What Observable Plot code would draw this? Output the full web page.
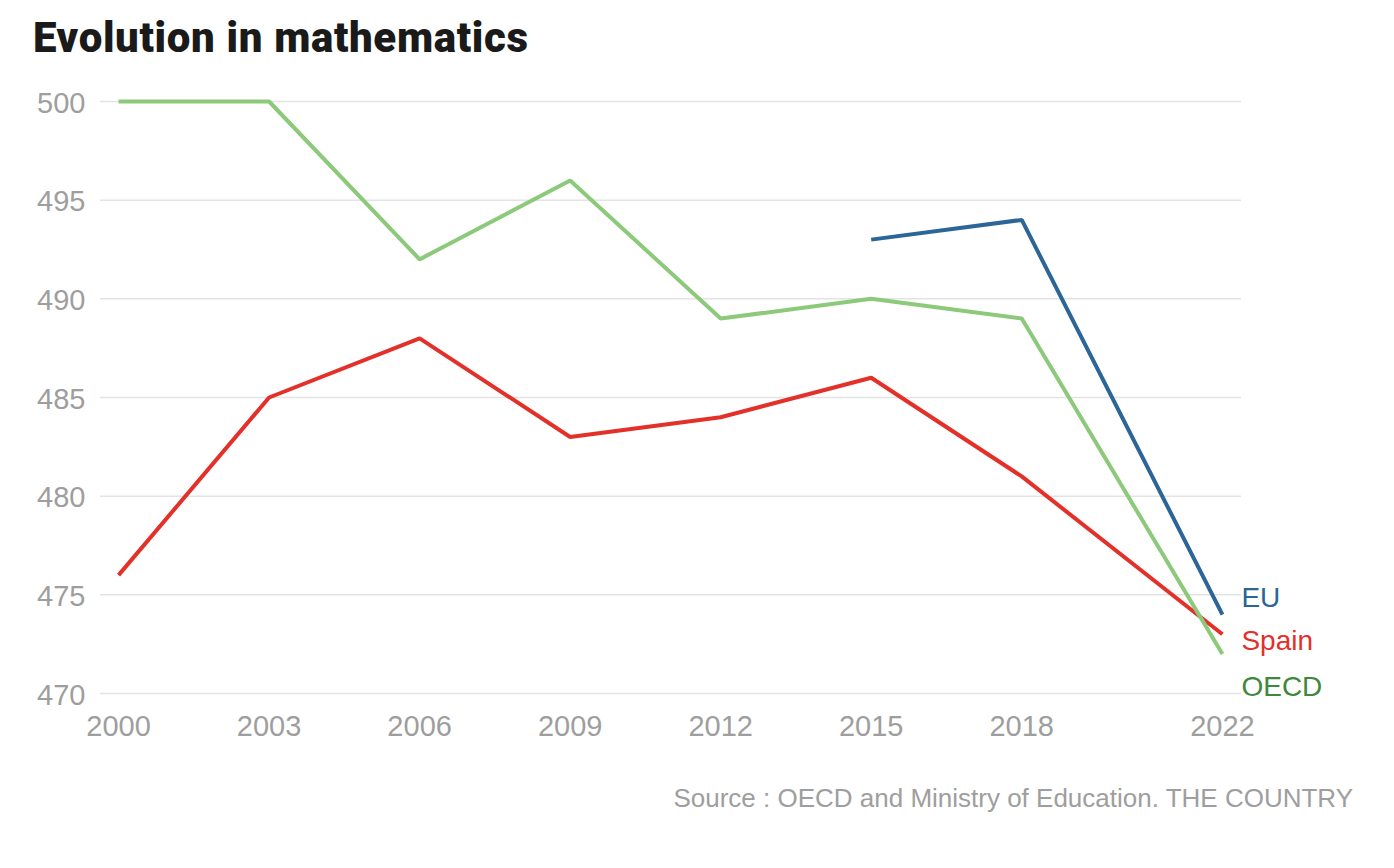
<!DOCTYPE html>
<html>
<head>
<meta charset="utf-8">
<script src="https://cdn.jsdelivr.net/npm/d3@7"></script>
<script src="https://cdn.jsdelivr.net/npm/@observablehq/plot@0.6"></script>
<style>
  html, body { margin: 0; padding: 0; background: #fff; }
  #wrap { position: relative; width: 1394px; height: 868px; font-family: "Liberation Sans", Arial, sans-serif; }
  #title { position: absolute; left: 33px; top: 13px; font-family: Roboto, "Liberation Sans", sans-serif; font-weight: 900; font-size: 42px; line-height: 50px; color: #1a1a1a; letter-spacing: 0.65px; margin: 0; }
  #chart { position: absolute; left: 0; top: 0; }
  #source { position: absolute; right: 41px; top: 783px; font-family: "Liberation Sans", sans-serif; font-size: 26px; color: #9e9e9e; }
</style>
</head>
<body>
<div id="wrap">
  <div id="chart"></div>
  <h1 id="title">Evolution in mathematics</h1>
  <div id="source">Source : OECD and Ministry of Education. THE COUNTRY</div>
</div>
<script>
const years = [2000, 2003, 2006, 2009, 2012, 2015, 2018, 2022];
const oecd = [500, 500, 492, 496, 489, 490, 489, 472];
const spain = [476, 485, 488, 483, 484, 486, 481, 473];
const euYears = [2015, 2018, 2022];
const eu = [493, 494, 474];
const yTicks = [470, 475, 480, 485, 490, 495, 500];

const seriesNames = ["EU", "Spain", "OECD"];
const lineColors = {EU: "#2c6597", Spain: "#e3312a", OECD: "#8cc97a"};
const labelColors = {EU: "#2c6597", Spain: "#e3312a", OECD: "#3f873a"};
const labelDy = {EU: -17, Spain: 7, OECD: 33};

const rows = [
  ...years.map((y, i) => ({series: "OECD", year: y, value: oecd[i]})),
  ...years.map((y, i) => ({series: "Spain", year: y, value: spain[i]})),
  ...euYears.map((y, i) => ({series: "EU", year: y, value: eu[i]}))
];
const last = seriesNames.map(s => rows.filter(d => d.series === s).at(-1));

const plot = Plot.plot({
  width: 1394,
  height: 760,
  marginTop: 101,
  marginBottom: 67,
  marginLeft: 100,
  marginRight: 153,
  style: {fontFamily: "'Liberation Sans', Arial, sans-serif", background: "transparent"},
  x: {domain: [1999.64, 2022.38], ticks: years, tickFormat: d => String(d)},
  y: {domain: [470, 500], ticks: yTicks},
  marks: [
    Plot.ruleY(yTicks, {stroke: "#e3e3e3", strokeWidth: 1.5}),
    Plot.axisX({ticks: years, tickFormat: d => String(d), tickSize: 0, tickPadding: 22, fontSize: 29, fill: "#9e9e9e", label: null}),
    Plot.axisY({ticks: yTicks, tickSize: 0, tickPadding: 15, fontSize: 29, fill: "#9e9e9e", label: null, dy: 2}),
    ...seriesNames.map(s => Plot.line(rows.filter(d => d.series === s), {
      x: "year", y: "value", stroke: lineColors[s], strokeWidth: 4, strokeLinejoin: "miter", strokeLinecap: "butt"
    })),
    ...last.map(d => Plot.text([d], {
      x: "year", y: "value", text: "series", textAnchor: "start", dx: 19, dy: labelDy[d.series],
      fill: labelColors[d.series], fontSize: 28
    }))
  ]
});
document.getElementById("chart").appendChild(plot);
</script>
</body>
</html>
